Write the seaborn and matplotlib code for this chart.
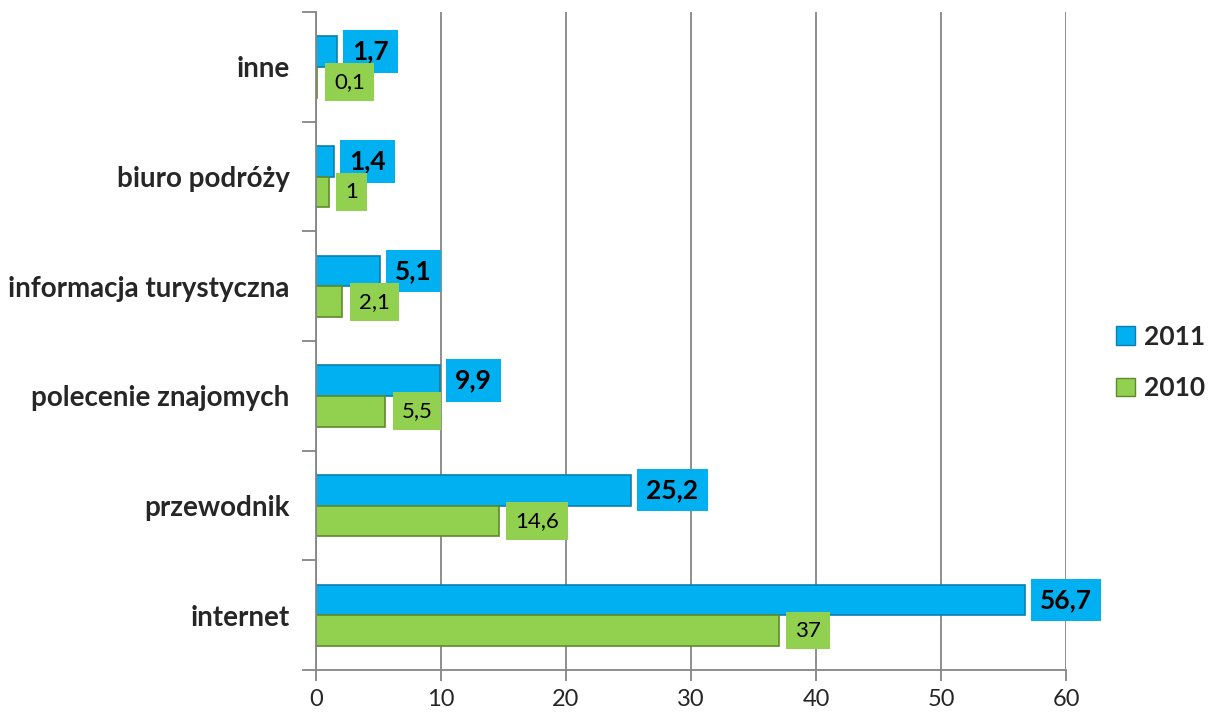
import matplotlib
matplotlib.use("Agg")
import matplotlib.pyplot as plt
import matplotlib.patches as mpatches
import seaborn as sns
import pandas as pd
import numpy as np

categories = ["inne", "biuro podróży", "informacja turystyczna",
              "polecenie znajomych", "przewodnik", "internet"]
values_2011 = [1.7, 1.4, 5.1, 9.9, 25.2, 56.7]
values_2010 = [0.1, 1.0, 2.1, 5.5, 14.6, 37.0]
series = ["2011", "2010"]
x_ticks = [0, 10, 20, 30, 40, 50, 60]

blue = "#00B0F0"
green = "#92D050"

sns.set_theme(style="white")
plt.rcParams['font.family'] = ['Lato', 'DejaVu Sans']

df = pd.DataFrame({
    "kategoria": categories * 2,
    "rok": ["2011"] * len(categories) + ["2010"] * len(categories),
    "wartosc": values_2011 + values_2010,
})

fig = plt.figure(figsize=(12.16, 7.15), dpi=100)
ax = fig.add_axes([0.2599, 0.0629, 0.6168, 0.9201])

sns.barplot(data=df, y="kategoria", x="wartosc", hue="rok", order=categories,
            hue_order=series, palette=[blue, green], orient="h", width=0.56,
            ax=ax, legend=False, saturation=1)

edge_cols = ["#0a7fb0", "#5f8a2a"]
for cont, ec in zip(ax.containers, edge_cols):
    for p in cont:
        p.set_edgecolor(ec)
        p.set_linewidth(1.2)

ax.set_xlim(0, 60)
ax.set_ylim(5.5, -0.5)
ax.set_xticks(x_ticks)
ax.set_xticklabels([str(t) for t in x_ticks], fontsize=17)
ax.set_xlabel("")
ax.set_ylabel("")
ax.set_yticks(range(len(categories)))
ax.set_yticklabels(categories, fontsize=20, fontweight="bold")
ax.set_yticks(np.arange(-0.5, 5.6, 1.0), minor=True)
ax.tick_params(axis="y", which="major", length=0, pad=19)
ax.tick_params(axis="y", which="minor", length=10, color="#868686", width=1.3, direction="out", left=True)
ax.tick_params(axis="x", which="major", length=8, color="#868686", width=1.3, direction="out", bottom=True, pad=6)

ax.grid(axis="x", color="#868686", linewidth=1.3)
ax.set_axisbelow(True)
for s in ["top", "right"]:
    ax.spines[s].set_visible(False)
for s in ["left", "bottom"]:
    ax.spines[s].set_color("#868686")
    ax.spines[s].set_linewidth(1.3)

def fmt(v):
    return f"{v:g}".replace(".", ",")

ax.bar_label(ax.containers[0], labels=[fmt(v) for v in values_2011], padding=11,
             fontsize=19, fontweight="bold", color="black",
             bbox=dict(boxstyle="square,pad=0.35", facecolor=blue, edgecolor="none"))
ax.bar_label(ax.containers[1], labels=[fmt(v) for v in values_2010], padding=12,
             fontsize=16, color="black",
             bbox=dict(boxstyle="square,pad=0.4", facecolor=green, edgecolor="none"))

handles = [mpatches.Patch(facecolor=blue, edgecolor=edge_cols[0], label="2011"),
           mpatches.Patch(facecolor=green, edgecolor=edge_cols[1], label="2010")]
leg = fig.legend(handles=handles, loc="center left", bbox_to_anchor=(0.918, 0.493),
                 frameon=False, prop=dict(weight="bold", size=19),
                 borderpad=0, borderaxespad=0,
                 handlelength=0.7, handleheight=0.7, handletextpad=0.35, labelspacing=1.05)

fig.savefig("out.png", dpi=100)
